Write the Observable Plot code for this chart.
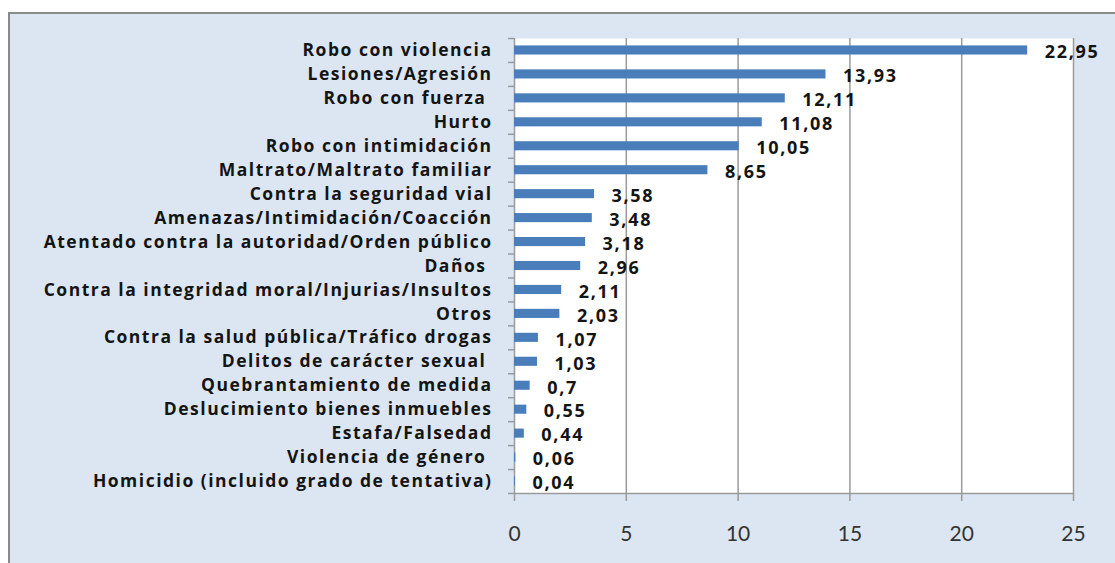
<!DOCTYPE html>
<html><head><meta charset="utf-8">
<script src="https://cdn.jsdelivr.net/npm/d3@7"></script>
<script src="https://cdn.jsdelivr.net/npm/@observablehq/plot@0.6"></script>
<style>
body{margin:0;background:#fff;width:1115px;height:563px;overflow:hidden;position:relative}
#bg{position:absolute;left:8px;top:12px;width:1120px;height:560px;background:#dce6f2;border-left:2px solid #8a8a8a;border-top:2px solid #8a8a8a}
#chart{position:absolute;left:0;top:0}
.lbl text{letter-spacing:1.5px}
.val text{letter-spacing:1.7px}
</style></head><body><div id="bg"></div><div id="chart"></div>
<script>
const categories = [
  "Robo con violencia",
  "Lesiones/Agresión",
  "Robo con fuerza\u00a0",
  "Hurto",
  "Robo con intimidación",
  "Maltrato/Maltrato familiar",
  "Contra la seguridad vial",
  "Amenazas/Intimidación/Coacción",
  "Atentado contra la autoridad/Orden público",
  "Daños\u00a0",
  "Contra la integridad moral/Injurias/Insultos",
  "Otros",
  "Contra la salud pública/Tráfico drogas",
  "Delitos de carácter sexual\u00a0",
  "Quebrantamiento de medida",
  "Deslucimiento bienes inmuebles",
  "Estafa/Falsedad",
  "Violencia de género\u00a0",
  "Homicidio (incluido grado de tentativa)"
];
const values = [22.95, 13.93, 12.11, 11.08, 10.05, 8.65, 3.58, 3.48, 3.18, 2.96, 2.11, 2.03, 1.07, 1.03, 0.7, 0.55, 0.44, 0.06, 0.04];
const xTicks = [0, 5, 10, 15, 20, 25];

const data = categories.map((c, i) => ({category: c, value: values[i], label: String(values[i]).replace(".", ",")}));
const W = 1115, H = 563, mL = 514, mR = 42, mT = 38, mB = 70;
const step = (H - mT - mB) / categories.length;
const font = "'Open Sans', Lato, sans-serif";

const chart = Plot.plot({
  width: W, height: H,
  marginLeft: mL, marginRight: mR, marginTop: mT, marginBottom: mB,
  style: {background: "transparent", fontFamily: font},
  x: {domain: [0, 25], label: null},
  y: {domain: categories, paddingInner: 0.62, paddingOuter: 0.31, round: false, label: null},
  marks: [
    Plot.frame({fill: "white", stroke: null}),
    Plot.gridX(xTicks, {stroke: "#9a9a9a", strokeOpacity: 1, strokeWidth: 1.5}),
    Plot.ruleY([categories[categories.length - 1]], {dy: step / 2, stroke: "#9a9a9a", strokeWidth: 1.5}),
    Plot.axisX(xTicks, {tickSize: 8, tickPadding: 25, fontSize: 21, stroke: "#9a9a9a", strokeWidth: 1.5, fill: "#333", fontFamily: "Lato, sans-serif", tickFormat: d => String(d), label: null}),
    Plot.axisY({tickSize: 0, tickPadding: 22, fontSize: 17.5, fontWeight: 700, fill: "#141414", label: null, className: "lbl"}),
    Plot.axisY({tickSize: 6, tickFormat: null, dy: -step / 2, stroke: "#9a9a9a", strokeWidth: 1.5, label: null}),
    Plot.axisY([categories[categories.length - 1]], {tickSize: 6, tickFormat: null, dy: step / 2, stroke: "#9a9a9a", strokeWidth: 1.5, label: null}),
    Plot.barX(data, {x: "value", y: "category", fill: "#4a7ebb"}),
    Plot.text(data, {x: "value", y: "category", text: "label", textAnchor: "start", dx: 17, dy: 2, fontSize: 18, fontWeight: 700, fill: "#141414", className: "val"})
  ]
});
document.getElementById("chart").appendChild(chart);
</script></body></html>
